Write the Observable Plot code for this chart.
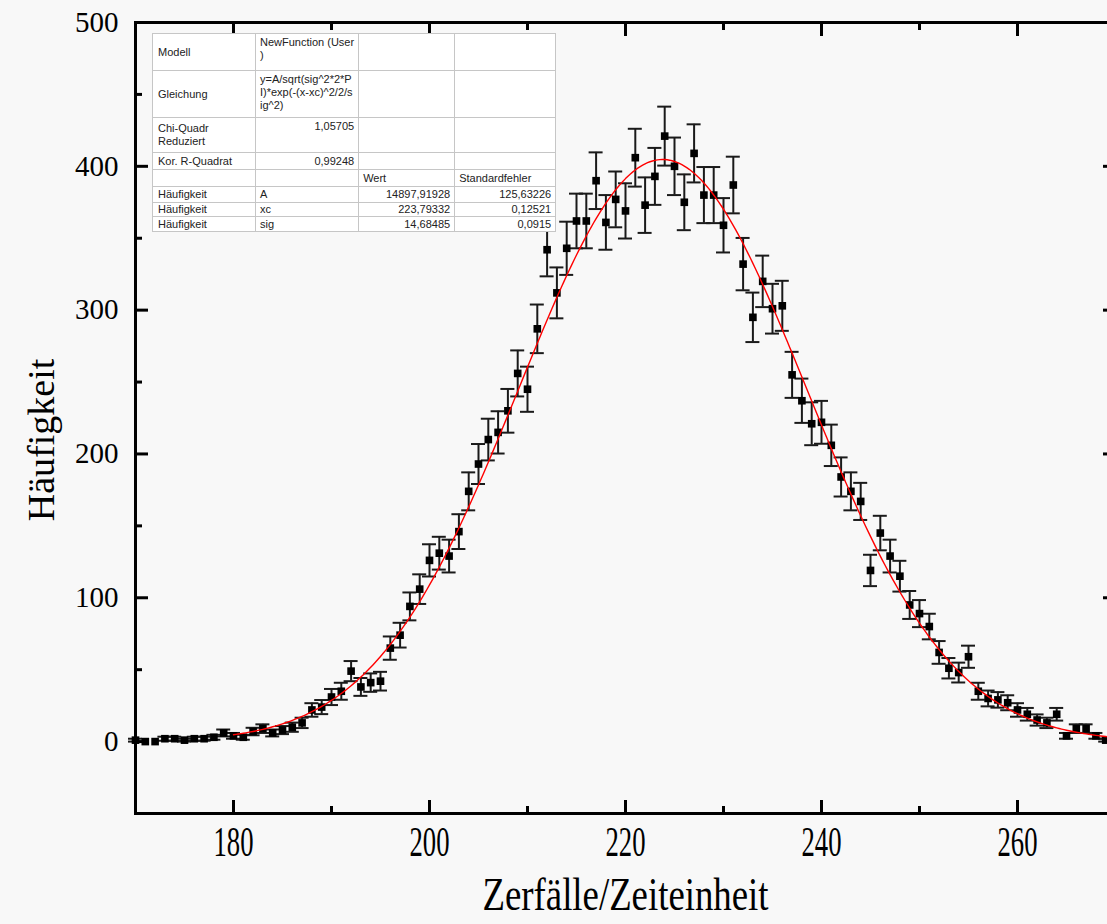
<!DOCTYPE html>
<html>
<head>
<meta charset="utf-8">
<script src="https://cdn.jsdelivr.net/npm/d3@7"></script>
<script src="https://cdn.jsdelivr.net/npm/@observablehq/plot@0.6"></script>
<style>
  html, body { margin: 0; padding: 0; width: 1107px; height: 924px; overflow: hidden; background: #f8f8f8; }
  #wrap { position: relative; width: 1107px; height: 924px; overflow: hidden; }
  #chart svg { display: block; background: transparent; max-width: none !important; width: 1115px; height: 924px; }
  table.fit { position: absolute; left: 152px; top: 33px; border-collapse: collapse; table-layout: fixed;
    background: #fff; font-family: "Liberation Sans", Arial, sans-serif; font-size: 11px; color: #222;
    border: 1.5px solid #6a6a6a; }
  table.fit td { border: 1px solid #c6c6c6; padding: 0 4px; line-height: 13px; white-space: nowrap; overflow: hidden; }
  table.fit td.lab { vertical-align: middle; padding-left: 5px; }
  table.fit td.top { vertical-align: top; padding-top: 2px; }
  table.fit td.num { text-align: right; }
  table.fit td.mid { vertical-align: middle; }
</style>
</head>
<body>
<div id="wrap"><div id="chart"></div></div>
<script>
// ---------- data ----------
const bins = [
  170,171,172,173,174,175,176,177,178,179,
  180,181,182,183,184,185,186,187,188,189,
  190,191,192,193,194,195,196,197,198,199,
  200,201,202,203,204,205,206,207,208,209,
  210,211,212,213,214,215,216,217,218,219,
  220,221,222,223,224,225,226,227,228,229,
  230,231,232,233,234,235,236,237,238,239,
  240,241,242,243,244,245,246,247,248,249,
  250,251,252,253,254,255,256,257,258,259,
  260,261,262,263,264,265,266,267,268,269
];
const counts = [
  1,0,0,2,2,1,2,2,3,6,
  4,3,7,9,6,8,10,13,22,24,
  31,35,49,38,41,42,65,74,94,106,
  126,131,129,146,174,193,210,215,230,256,
  245,287,342,312,343,362,362,390,361,377,
  369,406,373,393,421,400,375,409,380,380,
  359,387,332,295,320,301,303,255,237,221,
  222,206,184,174,167,119,145,129,115,95,
  89,80,62,51,48,59,35,30,29,27,
  22,19,15,13,19,4,9,9,4,1
];
const errors = [
  1,0,0,1.4,1.4,1,1.4,1.4,1.7,2.4,
  2,1.7,2.6,3,2.4,2.8,3.2,3.6,4.7,4.9,
  5.6,5.9,7,6.2,6.4,6.5,8.1,8.6,9.7,10.3,
  11.2,11.4,11.4,12.1,13.2,13.9,14.5,14.7,15.2,16,
  15.7,16.9,18.5,17.7,18.5,19,19,19.7,19,19.4,
  19.2,20.1,19.3,19.8,20.5,20,19.4,20.2,19.5,19.5,
  18.9,19.7,18.2,17.2,17.9,17.3,17.4,16,15.4,14.9,
  14.9,14.4,13.6,13.2,12.9,10.9,12,11.4,10.7,9.7,
  9.4,8.9,7.9,7.1,6.9,7.7,5.9,5.5,5.4,5.2,
  4.7,4.4,3.9,3.6,4.4,2,3,3,2,1
];
const xMajor = [180, 200, 220, 240, 260];
const xMinor = [170, 190, 210, 230, 250, 270];
const yMajor = [0, 100, 200, 300, 400, 500];
const yMinor = [-50, 50, 150, 250, 350, 450];
const xDomain = [170, 270];
const yDomain = [-50, 500];
const fitRange = [180, 270];

// fit table (values shown in the reference)
const statNames  = ["Modell", "Gleichung", "Chi-Quadr\nReduziert", "Kor. R-Quadrat"];
const statValues = ["NewFunction (User\n)", "y=A/sqrt(sig^2*2*P\nI)*exp(-(x-xc)^2/2/s\nig^2)", "1,05705", "0,99248"];
const paramHeader = ["Wert", "Standardfehler"];
const paramDep = "Häufigkeit";
const paramNames  = ["A", "xc", "sig"];
const paramValues = [14897.91928, 223.79332, 14.68485];
const paramErrors = [125.63226, 0.12521, 0.0915];

const xTitle = "Zerfälle/Zeiteinheit";
const yTitle = "Häufigkeit";

// ---------- derived tables ----------
const points = bins.map((x, i) => ({x, y: counts[i], e: errors[i]}));
const [A, xc, sig] = paramValues;
const fit = [];
for (let x = fitRange[0]; x <= fitRange[1] + 1e-9; x += 0.25) {
  fit.push({x, y: A / Math.sqrt(sig * sig * 2 * Math.PI) * Math.exp(-((x - xc) ** 2) / 2 / (sig * sig))});
}

const serif = "'Liberation Serif', 'Times New Roman', serif";
const blank = () => "";

const plot = Plot.plot({
  width: 1115, height: 924,
  marginLeft: 135, marginRight: 0, marginTop: 22, marginBottom: 111,
  style: {background: "transparent", overflow: "visible", maxWidth: "none"},
  x: {domain: xDomain},
  y: {domain: yDomain},
  marks: [
    // error bars
    Plot.ruleX(points.filter(d => d.e > 0), {x: "x", y1: d => d.y - d.e, y2: d => d.y + d.e, stroke: "#1a1a1a", strokeWidth: 2}),
    Plot.ruleY(points.filter(d => d.e > 0), {x1: "x", x2: "x", y: d => d.y + d.e, insetLeft: -7, insetRight: -7, stroke: "#1a1a1a", strokeWidth: 2}),
    Plot.ruleY(points.filter(d => d.e > 0), {x1: "x", x2: "x", y: d => d.y - d.e, insetLeft: -7, insetRight: -7, stroke: "#1a1a1a", strokeWidth: 2}),
    // data points
    Plot.dot(points, {x: "x", y: "y", symbol: "square", r: 4.3, fill: "#000", stroke: "none"}),
    // fit curve
    Plot.line(fit, {x: "x", y: "y", stroke: "#ff0000", strokeWidth: 1.4, clip: true}),
    // frame
    Plot.frame({stroke: "#000", strokeWidth: 3}),
    // inward ticks
    Plot.axisX(xMajor, {anchor: "bottom", tickSize: -13, strokeWidth: 3, tickFormat: blank, label: null}),
    Plot.axisX(xMinor, {anchor: "bottom", tickSize: -7, strokeWidth: 3, tickFormat: blank, label: null}),
    Plot.axisX(xMajor, {anchor: "top", tickSize: -13, strokeWidth: 3, tickFormat: blank, label: null}),
    Plot.axisX(xMinor, {anchor: "top", tickSize: -7, strokeWidth: 3, tickFormat: blank, label: null}),
    Plot.axisY(yMajor, {anchor: "left", tickSize: -13, strokeWidth: 3, tickFormat: blank, label: null}),
    Plot.axisY(yMinor, {anchor: "left", tickSize: -7, strokeWidth: 3, tickFormat: blank, label: null}),
    Plot.axisY(yMajor, {anchor: "right", tickSize: -13, strokeWidth: 3, tickFormat: blank, label: null}),
    Plot.axisY(yMinor, {anchor: "right", tickSize: -7, strokeWidth: 3, tickFormat: blank, label: null}),
    // tick labels
    Plot.axisX(xMajor, {anchor: "bottom", tickSize: 0, tickPadding: 12, fontSize: 34, fontFamily: serif, fill: "#000", label: null, tickFormat: d => String(d)}),
    Plot.axisY(yMajor, {anchor: "left", tickSize: 0, tickPadding: 17, fontSize: 29, fontFamily: serif, fill: "#000", label: null, tickFormat: d => String(d)}),
    // axis titles
    Plot.text([xTitle], {frameAnchor: "bottom", dy: 82, text: d => d, fontSize: 40, fontFamily: serif, fill: "#000", textAnchor: "middle", lineAnchor: "middle"}),
    Plot.text([yTitle], {frameAnchor: "left", dx: -94, dy: 22, rotate: -90, text: d => d, fontSize: 38, fontFamily: serif, fill: "#000", textAnchor: "middle", lineAnchor: "middle"})
  ]
});

document.getElementById("chart").appendChild(plot);

// condensed serif look of the x labels and x title
function stretchEl(t, sx, sy) {
  const tr = t.getAttribute("transform") || "";
  t.setAttribute("transform", tr + ` scale(${sx},${sy})`);
}
plot.querySelectorAll('g[aria-label="x-axis tick label"] text').forEach(t => stretchEl(t, 0.785, 1.25));
plot.querySelectorAll('text').forEach(t => { if (t.textContent === xTitle) stretchEl(t, 0.92, 1.15); });

// ---------- fit table ----------
const fmt = v => String(v).replace(".", ",");
const tbl = document.createElement("table");
tbl.className = "fit";
const colW = [103, 102, 96, 101];
const cg = document.createElement("colgroup");
colW.forEach(w => { const c = document.createElement("col"); c.style.width = w + "px"; cg.appendChild(c); });
tbl.appendChild(cg);
const rowH = [37, 47, 35, 17, 17, 16, 14, 15];
function addRow(h, cells) {
  const tr = document.createElement("tr");
  tr.style.height = h + "px";
  cells.forEach(([txt, cls]) => {
    const td = document.createElement("td");
    td.className = cls || "mid";
    td.innerHTML = (txt || "").split("\n").map(s => s.replace(/&/g, "&amp;").replace(/</g, "&lt;")).join("<br>");
    tr.appendChild(td);
  });
  tbl.appendChild(tr);
}
statNames.forEach((n, i) => {
  const isNum = i >= 2;
  addRow(rowH[i], [[n, "lab"], [statValues[i], i < 3 ? (isNum ? "top num" : "top") : "mid num"], ["", "mid"], ["", "mid"]]);
});
addRow(rowH[4], [["", "lab"], ["", "mid"], [paramHeader[0], "mid"], [paramHeader[1], "mid"]]);
paramNames.forEach((p, i) => {
  addRow(rowH[5 + i], [[paramDep, "lab"], [p, "mid"], [fmt(paramValues[i]), "mid num"], [fmt(paramErrors[i]), "mid num"]]);
});
document.getElementById("wrap").appendChild(tbl);
</script>
</body>
</html>
